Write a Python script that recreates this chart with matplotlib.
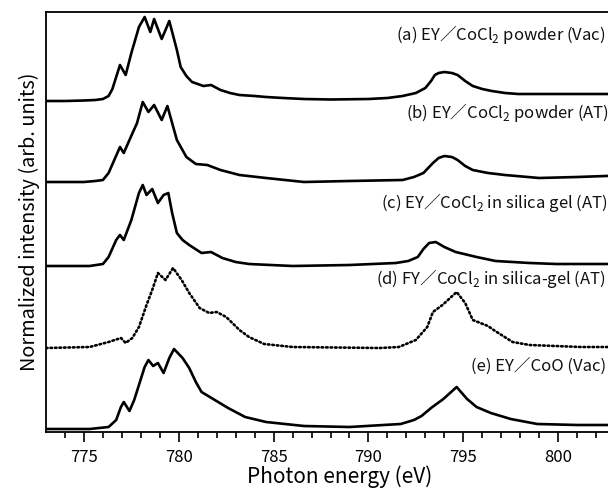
import matplotlib
matplotlib.use("Agg")
import matplotlib.pyplot as plt
import numpy as np

plt.rcParams['font.family'] = ['Noto Sans CJK JP', 'DejaVu Sans']

# ---- data (photon energy in eV, intensity in arb. units) ----
E_a = [773, 774, 775, 775.6, 776.0, 776.3, 776.5, 776.7, 776.9, 777.2, 777.5, 777.9, 778.2, 778.5,
       778.7, 779.1, 779.5, 779.9, 780.1, 780.4, 780.7, 781.3, 781.7, 782.2, 782.7, 783.2, 784.0,
       784.6, 785.5, 786.6, 788, 790, 791.0, 791.8, 792.5, 793.0, 793.3, 793.5, 793.7, 794.0, 794.4,
       794.7, 795.1, 795.5, 796.0, 796.5, 797.2, 797.9, 800, 804]
I_a = [0, 0, 0.5, 1, 2, 5, 12, 24, 36, 26, 48, 74, 84, 69,
       82, 62, 80, 51, 34, 25, 19, 15, 16, 11, 8, 6, 5,
       4, 3, 2, 1.5, 2, 3, 5, 8, 13, 20, 26, 28, 29, 28,
       26, 20, 15, 12, 10, 8, 7, 7, 7]

E_b = [773, 775, 775.6, 776.0, 776.3, 776.6, 776.9, 777.1, 777.4, 777.8, 778.1, 778.4, 778.7, 779.1,
       779.4, 779.9, 780.4, 780.9, 781.5, 782.2, 783.2, 784.6, 786.6, 789, 791.8, 792.4, 792.9,
       793.4, 793.7, 794.0, 794.4, 794.7, 795.1, 795.5, 796.3, 797.2, 799, 801, 804]
I_b = [0, 0, 1, 2, 9, 22, 35, 29, 42, 59, 80, 70, 77, 62,
       76, 42, 25, 18, 17, 12, 7, 4, 0, 1, 2, 5, 9,
       19, 24, 26, 25, 22, 16, 12, 9, 7, 4, 5, 7]

E_c = [773, 775.3, 776.0, 776.3, 776.7, 776.9, 777.1, 777.5, 777.9, 778.1, 778.3, 778.6, 778.9,
       779.2, 779.45, 779.65, 779.9, 780.2, 780.55, 781.2, 781.7, 782.3, 783.0, 783.7, 786, 789,
       791.45, 792.1, 792.6, 792.9, 793.2, 793.55, 794.0, 794.6, 795.7, 796.7, 798.5, 799.9, 804]
I_c = [0, 0, 2, 9, 26, 31, 26, 46, 73, 81, 71, 77, 63,
       71, 73, 53, 33, 26, 21, 13, 14, 8, 4, 2, 0, 1,
       3, 5, 9, 17, 23, 24, 19, 14, 9, 5, 3, 2, 2]

E_d = [773, 775.3, 776.3, 776.95, 777.2, 777.55, 777.9, 778.3, 778.6, 778.9, 779.3, 779.7, 780.15,
       780.55, 781.1, 781.6, 782.0, 782.5, 783.2, 783.7, 784.5, 786, 790.6, 791.6, 792.5, 793.1,
       793.4, 793.9, 794.65, 795.1, 795.5, 796.3, 796.6, 797.6, 798.5, 801.2, 804]
I_d = [0, 1, 6, 10, 5, 10, 21, 43, 58, 75, 68, 80, 68,
       55, 40, 35, 36, 31, 18, 11, 4, 1, 0, 1, 8, 21,
       36, 43, 56, 45, 28, 22, 18, 6, 3, 1, 1]

E_e = [773, 775.3, 776.3, 776.7, 776.95, 777.1, 777.4, 777.65, 777.9, 778.2, 778.4, 778.65, 778.9,
       779.2, 779.5, 779.75, 780.2, 780.55, 780.9, 781.2, 781.9, 782.6, 783.5, 784.6, 786.6, 789,
       791.7, 792.4, 792.8, 793.3, 793.95, 794.3, 794.65, 795.2, 795.7, 796.45, 797.5, 798.9, 801, 804]
I_e = [0, 0, 2, 9, 22, 27, 18, 29, 44, 62, 69, 63, 66,
       56, 71, 80, 71, 61, 47, 37, 29, 21, 12, 7, 3, 2,
       5, 9, 13, 21, 30, 36, 42, 30, 22, 16, 10, 5, 4, 4]

offsets = [331, 250, 166, 84, 3]
labels = ["(a) EY／CoCl$_\\mathregular{2}$ powder (Vac)",
          "(b) EY／CoCl$_\\mathregular{2}$ powder (AT)",
          "(c) EY／CoCl$_\\mathregular{2}$ in silica gel (AT)",
          "(d) FY／CoCl$_\\mathregular{2}$ in silica-gel (AT)",
          "(e) EY／CoO (Vac)"]
label_x = [791.45, 791.97, 790.65, 790.4, 795.4]
label_y = [397, 319, 230, 153, 66]

energies = [E_a, E_b, E_c, E_d, E_e]
intens = [I_a, I_b, I_c, I_d, I_e]
styles = ['-', '-', '-', (0, (0.6, 1.1)), '-']

fig = plt.figure(figsize=(6.08, 4.88), dpi=100)
ax = fig.add_axes([46/608, 56/488, 588/608, 420/488])

for E, I, off, ls in zip(energies, intens, offsets, styles):
    ax.plot(E, np.array(I) + off, color='black', lw=1.9, ls=ls,
            solid_joinstyle='round', dash_capstyle='round')

for lx, ly, t in zip(label_x, label_y, labels):
    ax.text(lx, ly, t, fontsize=12, ha='left', va='center', color='#111111')

ax.set_xlim(773, 804)
ax.set_ylim(0, 420)
ax.set_xticks([775, 780, 785, 790, 795, 800])
ax.set_xticks(np.arange(774, 804, 1), minor=True)
ax.tick_params(axis='x', which='major', direction='out', length=7, width=1.2, labelsize=12, pad=5)
ax.tick_params(axis='x', which='minor', direction='out', length=4, width=1.2)
ax.set_yticks([])
for s in ax.spines.values():
    s.set_linewidth(1.3)
ax.set_xlabel("Photon energy (eV)", fontsize=15, labelpad=0)
ax.set_ylabel("Normalized intensity (arb. units)", fontsize=14.3, labelpad=4)

fig.savefig("out.png", dpi=100)
